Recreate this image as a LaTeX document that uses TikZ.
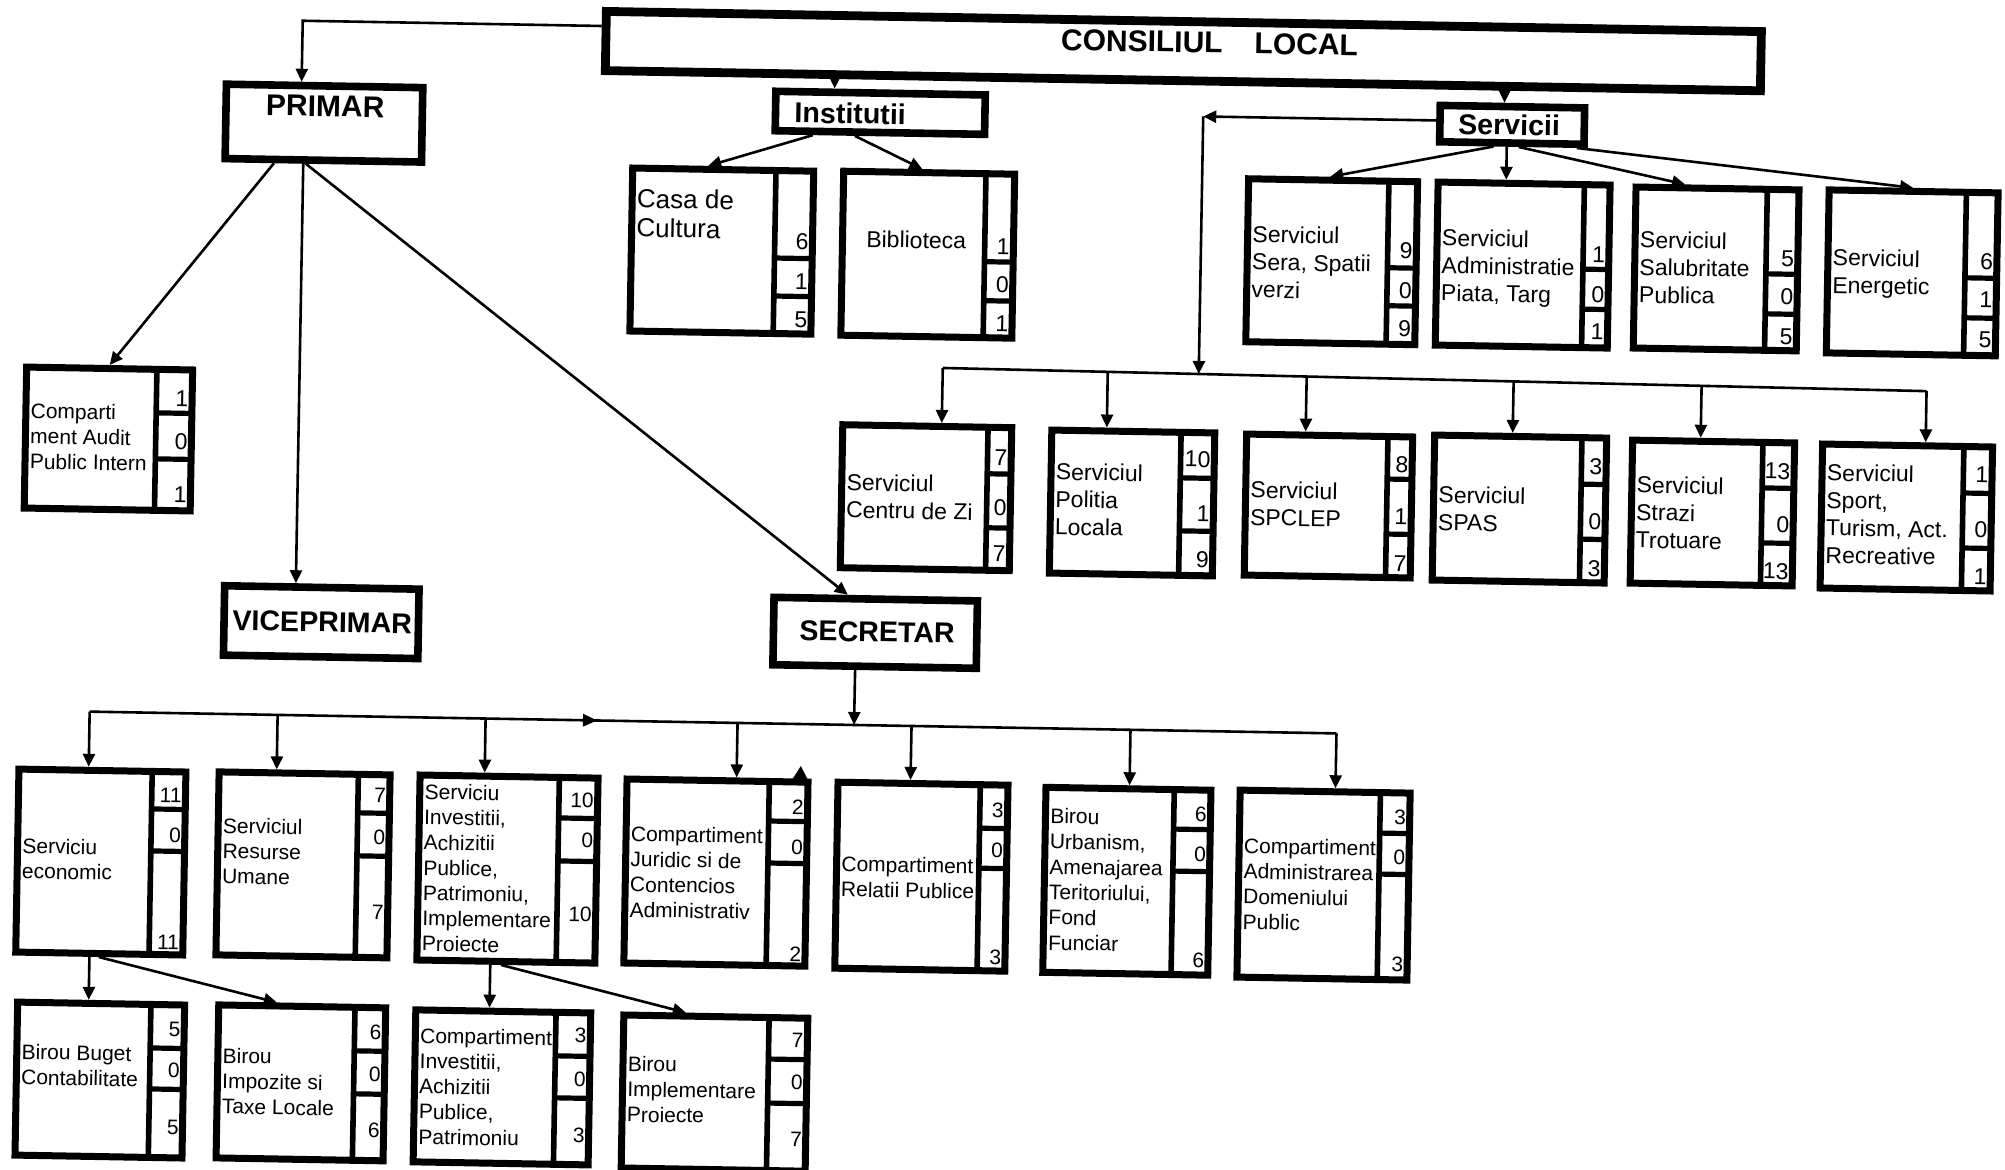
\documentclass[tikz,border=0pt]{standalone}
\usepackage{fontspec}
\setmainfont{Liberation Sans}
\usetikzlibrary{arrows.meta,calc}

\tikzset{
  frame/.style={draw=black, line width=3.5pt, inner sep=0pt, outer sep=1.75pt},
  hframe/.style={draw=black, line width=3.8pt, inner sep=0pt, outer sep=1.9pt},
  colline/.style={line width=2.8pt},
  divline/.style={line width=2.6pt},
  conn/.style={line width=1.3pt, -{Triangle[length=6.5pt,width=6pt]}},
  plain/.style={line width=1.3pt},
  txtA/.style={font=\fontsize{11.5}{13.75}\selectfont, align=left, inner sep=0pt, anchor=north west},
  txtB/.style={font=\fontsize{10.5}{12.65}\selectfont, align=left, inner sep=0pt, anchor=north west},
  txtC/.style={font=\fontsize{13}{14.5}\selectfont, align=left, inner sep=0pt, anchor=north west},
  numA/.style={font=\fontsize{11.5}{13}\selectfont, inner sep=0pt, anchor=base east},
  numB/.style={font=\fontsize{10.5}{12}\selectfont, inner sep=0pt, anchor=base east},
  htxt/.style={font=\bfseries\fontsize{14.3}{16}\selectfont, inner sep=0pt},
}

% name, cx, cy, W, H, column width, divider 1, divider 2
\newcommand{\entrybox}[8]{%
  \def\curN{#1}\def\curL{#2-#4/2}\def\curT{#3-#5/2}\def\curR{#2+#4/2}%
  \node[frame, minimum width={(#4-7)*0.5pt}, minimum height={(#5-7)*0.5pt}] (#1) at (#2,#3) {};
  \draw[colline] ({#2+#4/2-#6+2.8},{#3-#5/2+3}) -- ({#2+#4/2-#6+2.8},{#3+#5/2-3});
  \draw[divline] ({#2+#4/2-#6+2.8},{#3-#5/2+#7}) -- ({#2+#4/2-3},{#3-#5/2+#7});
  \draw[divline] ({#2+#4/2-#6+2.8},{#3-#5/2+#8}) -- ({#2+#4/2-3},{#3-#5/2+#8});
}
% style, n1, y1, n2, y2, n3, y3
\newcommand{\entrynums}[7]{%
  \node[#1] (\curN-a) at ({\curR-7},{\curT+#3+8}) {#2};
  \node[#1] (\curN-b) at ({\curR-7},{\curT+#5+8}) {#4};
  \node[#1] (\curN-c) at ({\curR-7},{\curT+#7+8}) {#6};
}
% style, dx, first line centre, text
\newcommand{\entrytext}[4]{%
  \node[#1] (\curN-t) at ({\curL+#2},{\curT+#3-10.5}) {\strut #4};
}
% name, cx, cy, W, H
\newcommand{\headbox}[5]{%
  \node[hframe, minimum width={(#4-7.6)*0.5pt}, minimum height={(#5-7.6)*0.5pt}] (#1) at (#2,#3) {};
}

\begin{document}
\begin{tikzpicture}[x=0.5pt, y=-0.5pt]
\fill[white] (0,0) rectangle (2005,1170);
\useasboundingbox (0,0) rectangle (2005,1170);

\begin{scope}[rotate around={-1:(1000,585)}, transform shape]

% ---------------- header boxes
\node[hframe, line width=4.4pt, outer sep=2.2pt, minimum width={(1164-8.8)*0.5pt}, minimum height={(68-8.8)*0.5pt}] (consiliul) at (1174,48) {};
\node[htxt, font=\bfseries\fontsize{15}{17}\selectfont] (consiliul-t) at (1200,39) {CONSILIUL\hspace{16pt}LOCAL};

\headbox{primar}{316}{135}{204}{82}
\node[htxt, font=\bfseries\fontsize{15}{17}\selectfont] (primar-t) at (317,118) {PRIMAR};

\headbox{institutii}{872}{115}{217}{47}
\node[htxt] (institutii-t) at (842,116) {Institutii};

\headbox{servicii}{1504}{116}{152}{44}
\node[htxt] (servicii-t) at (1501,116) {Servicii};

\headbox{viceprimar}{322}{634}{202}{77}
\node[htxt] (viceprimar-t) at (323,634) {VICEPRIMAR};

\headbox{secretar}{876}{635}{211}{75}
\node[htxt] (secretar-t) at (878,634) {SECRETAR};

% ---------------- institutii / servicii row 1
\entrybox{casa}{716}{256}{188}{170}{44}{91}{129}
\entrynums{numA}{6}{74}{1}{114}{5}{152}
\entrytext{txtC}{8}{33}{Casa de\\Cultura}

\entrybox{biblioteca}{922}{256}{178}{171}{35}{91.5}{130.5}
\entrynums{numA}{1}{76}{0}{114}{1}{153}
\entrytext{txtA}{27}{70}{Biblioteca}

\entrybox{sera}{1326}{256}{176}{170}{35}{90}{128}
\entrynums{numA}{9}{73}{0}{113}{9}{151}
\entrytext{txtA}{8}{58}{Serviciul\\Sera, Spatii\\verzi}

\entrybox{adm}{1517}{256}{179}{170}{32}{88}{128}
\entrynums{numA}{1}{73}{0}{113}{1}{150}
\entrytext{txtA}{8}{58}{Serviciul\\Administratie\\Piata, Targ}

\entrybox{salub}{1710.5}{256.5}{170}{168}{38}{88}{128}
\entrynums{numA}{5}{72}{0}{110}{5}{150}
\entrytext{txtA}{8}{55}{Serviciul\\Salubritate\\Publica}

\entrybox{energetic}{1906.6}{257}{176}{170}{38}{89}{129}
\entrynums{numA}{6}{72}{1}{110}{5}{150}
\entrytext{txtA}{8}{70}{Serviciul\\Energetic}

% ---------------- servicii row 2
\entrybox{centru}{924.5}{499}{176}{150}{30}{50}{104}
\entrynums{numA}{7}{34}{0}{84}{7}{130}
\entrytext{txtA}{8}{60}{Serviciul\\Centru de Zi}

\entrybox{politia}{1130.6}{500.7}{170}{150}{40}{49}{102}
\entrynums{numA}{10}{30}{1}{84}{9}{130}
\entrytext{txtA}{8}{44}{Serviciul\\Politia\\Locala}

\entrybox{spclep}{1327}{500.3}{173}{148}{31}{46}{101}
\entrynums{numA}{8}{31}{1}{83}{7}{130}
\entrytext{txtA}{8}{58}{Serviciul\\SPCLEP}

\entrybox{spas}{1518}{500}{179}{152}{31}{50}{105}
\entrynums{numA}{3}{32}{0}{87}{3}{134}
\entrytext{txtA}{8}{62}{Serviciul\\SPAS}

\entrybox{strazi}{1711}{500.6}{169}{150}{38}{49}{104}
\entrynums{numA}{13}{32}{0}{85}{13}{132}
\entrytext{txtA}{8}{47}{Serviciul\\Strazi\\Trotuare}

\entrybox{sport}{1905}{501.7}{177}{151}{35}{50}{105}
\entrynums{numA}{1}{31}{0}{86}{1}{133}
\entrytext{txtA}{8}{31}{Serviciul\\Sport,\\Turism, Act.\\Recreative}

% ---------------- audit
\entrybox{audit}{106}{454.6}{173}{148}{42}{47}{93}
\entrynums{numA}{1}{32}{0}{75}{1}{128}
\entrytext{txtB}{8}{47}{Comparti\\ment Audit\\Public Intern}

% ---------------- secretar row 3
\entrybox{economic}{105.8}{877.7}{174}{190}{40}{41}{83}
\entrynums{numB}{11}{26}{0}{66}{11}{173}
\entrytext{txtB}{8}{80}{Serviciu\\economic}

\entrybox{resurse}{308}{877}{178}{190}{38}{42}{85}
\entrynums{numB}{7}{23}{0}{65}{7}{140}
\entrytext{txtB}{8}{57}{Serviciul\\Resurse\\Umane}

\entrybox{investitii}{512.5}{877.6}{185}{192}{45}{44}{87}
\entrynums{numB}{10}{25}{0}{65}{10}{139}
\entrytext{txtB}{8}{20}{Serviciu\\Investitii,\\Achizitii\\Publice,\\Patrimoniu,\\Implementare\\Proiecte}

\entrybox{juridic}{721}{877.5}{188}{191}{45}{43}{85}
\entrynums{numB}{2}{28}{0}{68}{2}{175}
\entrytext{txtB}{8}{58}{Compartiment\\Juridic si de\\Contencios\\Administrativ}

\entrybox{relatii}{926.5}{878}{177}{193}{34}{47}{87}
\entrynums{numB}{3}{28}{0}{68}{3}{175}
\entrytext{txtB}{8}{85}{Compartiment\\Relatii Publice}

\entrybox{urbanism}{1132}{879}{172}{192}{43}{43}{85}
\entrynums{numB}{6}{27}{0}{67}{6}{173}
\entrytext{txtB}{8}{32}{Birou\\Urbanism,\\Amenajarea\\Teritoriului,\\Fond\\Funciar}

\entrybox{domeniu}{1328.7}{879.4}{177}{194}{36}{44}{85}
\entrynums{numB}{3}{27}{0}{67}{3}{174}
\entrytext{txtB}{8}{59}{Compartiment\\Administrarea\\Domeniului\\Public}

% ---------------- row 4
\entrybox{buget}{108.6}{1095.7}{174}{160}{40}{47}{88}
\entrynums{numB}{5}{27}{0}{68}{5}{125}
\entrytext{txtB}{8}{53}{Birou Buget\\Contabilitate}

\entrybox{impozite}{309.7}{1095}{174}{160}{37}{47}{90}
\entrynums{numB}{6}{27}{0}{69}{6}{125}
\entrytext{txtB}{8}{54}{Birou\\Impozite si\\Taxe Locale}

\entrybox{compinv}{510.8}{1096}{182}{159}{41}{47}{89}
\entrynums{numB}{3}{25}{0}{69}{3}{125}
\entrytext{txtB}{8}{29}{Compartiment\\Investitii,\\Achizitii\\Publice,\\Patrimoniu}

\entrybox{implem}{723.4}{1098}{191}{160}{45}{45}{89}
\entrynums{numB}{7}{25}{0}{67}{7}{124}
\entrytext{txtB}{8}{52}{Birou\\Implementare\\Proiecte}

% ---------------- bus coordinates
\coordinate (cpr) at (293,33);
\coordinate (sc) at (1195,113);
\coordinate (b2c) at (939,369);
\coordinate (b2p) at (1104,370);
\coordinate (b2s) at (1195,370.6);
\coordinate (b2l) at (1303,371.2);
\coordinate (b2a) at (1510,372.5);
\coordinate (b2t) at (1698,373.6);
\coordinate (b2r) at (1923,375);
\coordinate (b3e) at (92,727.5);
\coordinate (b3r) at (280,727.5);
\coordinate (b3i) at (488,727.5);
\coordinate (b3j) at (740,727.5);
\coordinate (b3s) at (856.5,727.5);
\coordinate (b3p) at (914,727.5);
\coordinate (b3u) at (1133,727.5);
\coordinate (b3d) at (1339,727.5);

% ---------------- connectors
\draw[conn] ($(consiliul.north west)!0.28!(consiliul.south west)$) -- (cpr) -- ($(primar.north west)!0.387!(primar.north east)$);
\draw[conn] ($(consiliul.south west)!0.201!(consiliul.south east)$) -- ($(institutii.north west)!0.288!(institutii.north east)$);
\draw[conn] ($(consiliul.south west)!0.7766!(consiliul.south east)$) -- ($(servicii.north west)!0.447!(servicii.north east)$);

\draw[conn] ($(institutii.south west)!0.191!(institutii.south east)$) -- ($(casa.north west)!0.42!(casa.north east)$);
\draw[conn] ($(institutii.south west)!0.385!(institutii.south east)$) -- ($(biblioteca.north west)!0.461!(biblioteca.north east)$);

\draw[conn] ($(servicii.south west)!0.38!(servicii.south east)$) -- ($(sera.north west)!0.483!(sera.north east)$);
\draw[conn] ($(servicii.south west)!0.467!(servicii.south east)$) -- ($(adm.north west)!0.40!(adm.north east)$);
\draw[conn] ($(servicii.south west)!0.546!(servicii.south east)$) -- ($(salub.north west)!0.309!(salub.north east)$);
\draw[conn] ($(servicii.south west)!0.928!(servicii.south east)$) -- ($(energetic.north west)!0.497!(energetic.north east)$);

\draw[conn] ($(servicii.north west)!0.43!(servicii.south west)$) -- (sc);
\draw[conn] (sc) -- (b2s);
\draw[plain] (b2c) -- (b2r);
\draw[conn] (b2c) -- ($(centru.north west)!0.582!(centru.north east)$);
\draw[conn] (b2p) -- ($(politia.north west)!0.344!(politia.north east)$);
\draw[conn] (b2l) -- ($(spclep.north west)!0.361!(spclep.north east)$);
\draw[conn] (b2a) -- ($(spas.north west)!0.455!(spas.north east)$);
\draw[conn] (b2t) -- ($(strazi.north west)!0.423!(strazi.north east)$);
\draw[conn] (b2r) -- ($(sport.north west)!0.602!(sport.north east)$);

\draw[conn] ($(primar.south west)!0.258!(primar.south east)$) -- ($(audit.north west)!0.5!(audit.north east)$);
\draw[conn] ($(primar.south west)!0.402!(primar.south east)$) -- ($(viceprimar.north west)!0.371!(viceprimar.north east)$);
\draw[conn] ($(primar.south west)!0.415!(primar.south east)$) -- ($(secretar.north west)!0.367!(secretar.north east)$);

\draw[conn] ($(secretar.south west)!0.408!(secretar.south east)$) -- (b3s);
\draw[plain] (b3e) -- (b3d);
\draw[conn] (b3e) -- ($(economic.north west)!0.421!(economic.north east)$);
\draw[conn] (b3r) -- ($(resurse.north west)!0.343!(resurse.north east)$);
\draw[conn] (b3i) -- ($(investitii.north west)!0.368!(investitii.north east)$);
\draw[conn] (b3j) -- ($(juridic.north west)!0.601!(juridic.north east)$);
\draw[conn] (b3p) -- ($(relatii.north west)!0.429!(relatii.north east)$);
\draw[conn] (b3u) -- ($(urbanism.north west)!0.506!(urbanism.north east)$);
\draw[conn] (b3d) -- ($(domeniu.north west)!0.558!(domeniu.north east)$);

\draw[conn] ($(economic.south west)!0.444!(economic.south east)$) -- ($(buget.north west)!0.428!(buget.north east)$);
\draw[conn] ($(economic.south west)!0.498!(economic.south east)$) -- ($(impozite.north west)!0.354!(impozite.north east)$);
\draw[conn] ($(investitii.south west)!0.416!(investitii.south east)$) -- ($(compinv.north west)!0.424!(compinv.north east)$);
\draw[conn] ($(investitii.south west)!0.474!(investitii.south east)$) -- ($(implem.north west)!0.343!(implem.north east)$);

% stray arrowheads printed in the scan
\fill (585.4,721) -- (599.4,727.5) -- (585.4,734) -- cycle;
\fill (796,782.5) -- (804,769.5) -- (811,782.5) -- cycle;

\end{scope}
\end{tikzpicture}
\end{document}
